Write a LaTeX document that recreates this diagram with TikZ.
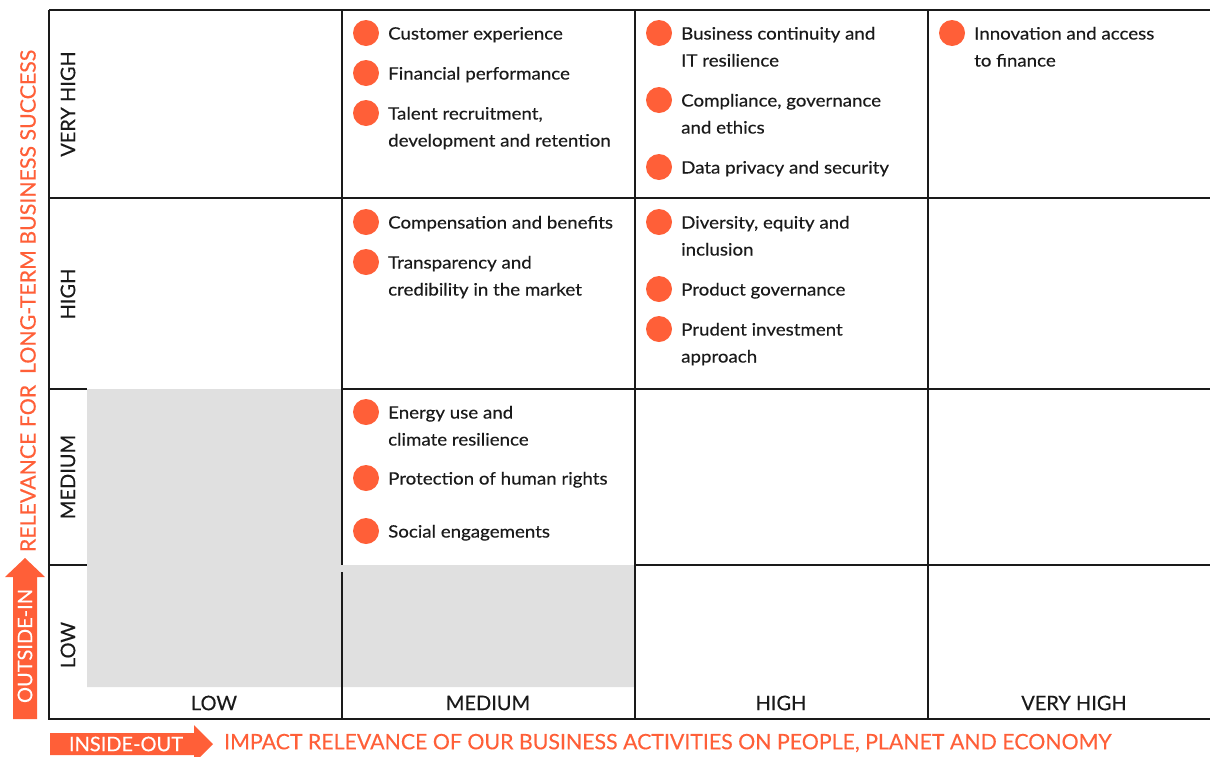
\documentclass[tikz,border=0pt]{standalone}
\usepackage{fontspec}
\setmainfont{Lato}
\newfontfamily\itemfont{Lato}[FakeStretch=1.1,FakeBold=0.4]
\newfontfamily\labfont{Lato}[FakeBold=0.3]
\usetikzlibrary{shapes.arrows}
\definecolor{org}{HTML}{FF5F38}
\definecolor{gry}{HTML}{E0E0E0}
\definecolor{ink}{HTML}{1A1A1A}
\tikzset{
  gridline/.style={draw=ink, line width=1.3pt},
  rowlab/.style={font=\labfont\fontsize{20}{24}\selectfont, text=ink, inner sep=0pt},
  dotc/.style={circle, fill=org, minimum size=26pt, inner sep=0pt},
  itemtxt/.style={font=\itemfont\fontsize{17}{20}\selectfont, text=ink, inner sep=0pt, anchor=base west},
  axistxt/.style={font=\labfont\fontsize{21.3}{24}\selectfont, text=org, inner sep=0pt},
  arrtxt/.style={font=\labfont\fontsize{20}{24}\selectfont, text=white, inner sep=0pt}
}
\newcommand\bitem[4]{%
  \node[dotc] (#1d) at (#2,#3) {};
  \node[itemtxt] (#1t) at ({#2+22},{#3+6.5}) {#4};}
\newcommand\bitemtwo[5]{%
  \node[dotc] (#1d) at (#2,#3) {};
  \node[itemtxt] (#1t) at ({#2+22},{#3+6.5}) {#4};
  \node[itemtxt] (#1u) at ({#2+22},{#3+33.5}) {#5};}
\begin{document}
\begin{tikzpicture}[x=1pt,y=-1pt]
\useasboundingbox (0,0) rectangle (1210,756);
% grey zone
\fill[gry] (87,389) -- (342,389) -- (342,565) -- (635,565) -- (635,687) -- (87,687) -- cycle;
% grid
\draw[gridline] (49,10) -- (1210,10);
\draw[gridline] (49,10) -- (49,719) -- (1210,719);
\draw[gridline] (49,198) -- (1210,198);
\draw[gridline] (49,389) -- (87,389);
\draw[gridline] (342,389) -- (1210,389);
\draw[gridline] (49,565) -- (87,565);
\draw[gridline] (635,565) -- (1210,565);
\draw[gridline] (342,10) -- (342,565);
\draw[gridline] (342,572) -- (342,719);
\draw[gridline] (635,10) -- (635,719);
\draw[gridline] (928,10) -- (928,719);
% row labels
\node[rowlab, rotate=90] (rVH) at (68,104) {VERY HIGH};
\node[rowlab, rotate=90] (rH) at (68,294) {HIGH};
\node[rowlab, rotate=90] (rM) at (68,477) {MEDIUM};
\node[rowlab, rotate=90] (rL) at (68,645) {LOW};
% column labels
\node[rowlab] (cL) at (214,703) {LOW};
\node[rowlab] (cM) at (488,703) {MEDIUM};
\node[rowlab] (cH) at (781,703) {HIGH};
\node[rowlab] (cVH) at (1074,703) {VERY HIGH};
% items column MEDIUM
\bitem{a1}{366}{33}{Customer experience}
\bitem{a2}{366}{73}{Financial performance}
\bitemtwo{a3}{366}{113}{Talent recruitment,}{development and retention}
\bitem{a4}{366}{222}{Compensation and benefits}
\bitemtwo{a5}{366}{262}{Transparency and}{credibility in the market}
\bitemtwo{a6}{366}{412}{Energy use and}{climate resilience}
\bitem{a7}{366}{478}{Protection of human rights}
\bitem{a8}{366}{531}{Social engagements}
% items column HIGH
\bitemtwo{b1}{659}{33}{Business continuity and}{IT resilience}
\bitemtwo{b2}{659}{100}{Compliance, governance}{and ethics}
\bitem{b3}{659}{167}{Data privacy and security}
\bitemtwo{b4}{659}{222}{Diversity, equity and}{inclusion}
\bitem{b5}{659}{289}{Product governance}
\bitemtwo{b6}{659}{329}{Prudent investment}{approach}
% items column VERY HIGH
\bitemtwo{c1}{952}{33}{Innovation and access}{to finance}
% vertical axis arrow
\fill[org] (13,719) -- (13,577) -- (5,577) -- (25,558) -- (45,577) -- (37,577) -- (37,719) -- cycle;
\node[arrtxt, rotate=90] (oi) at (25,646) {OUTSIDE-IN};
\node[axistxt, rotate=90] (vax) at (28,301) {RELEVANCE FOR \ LONG-TERM BUSINESS SUCCESS};
% horizontal axis arrow
\fill[org] (50,733) -- (194,733) -- (194,725) -- (213,744) -- (194,763) -- (194,755) -- (50,755) -- cycle;
\node[arrtxt] (io) at (126,744) {INSIDE-OUT};
\node[axistxt, anchor=west] (hax) at (224,743) {IMPACT RELEVANCE OF OUR BUSINESS ACTIVITIES ON PEOPLE, PLANET AND ECONOMY};
\end{tikzpicture}
\end{document}
